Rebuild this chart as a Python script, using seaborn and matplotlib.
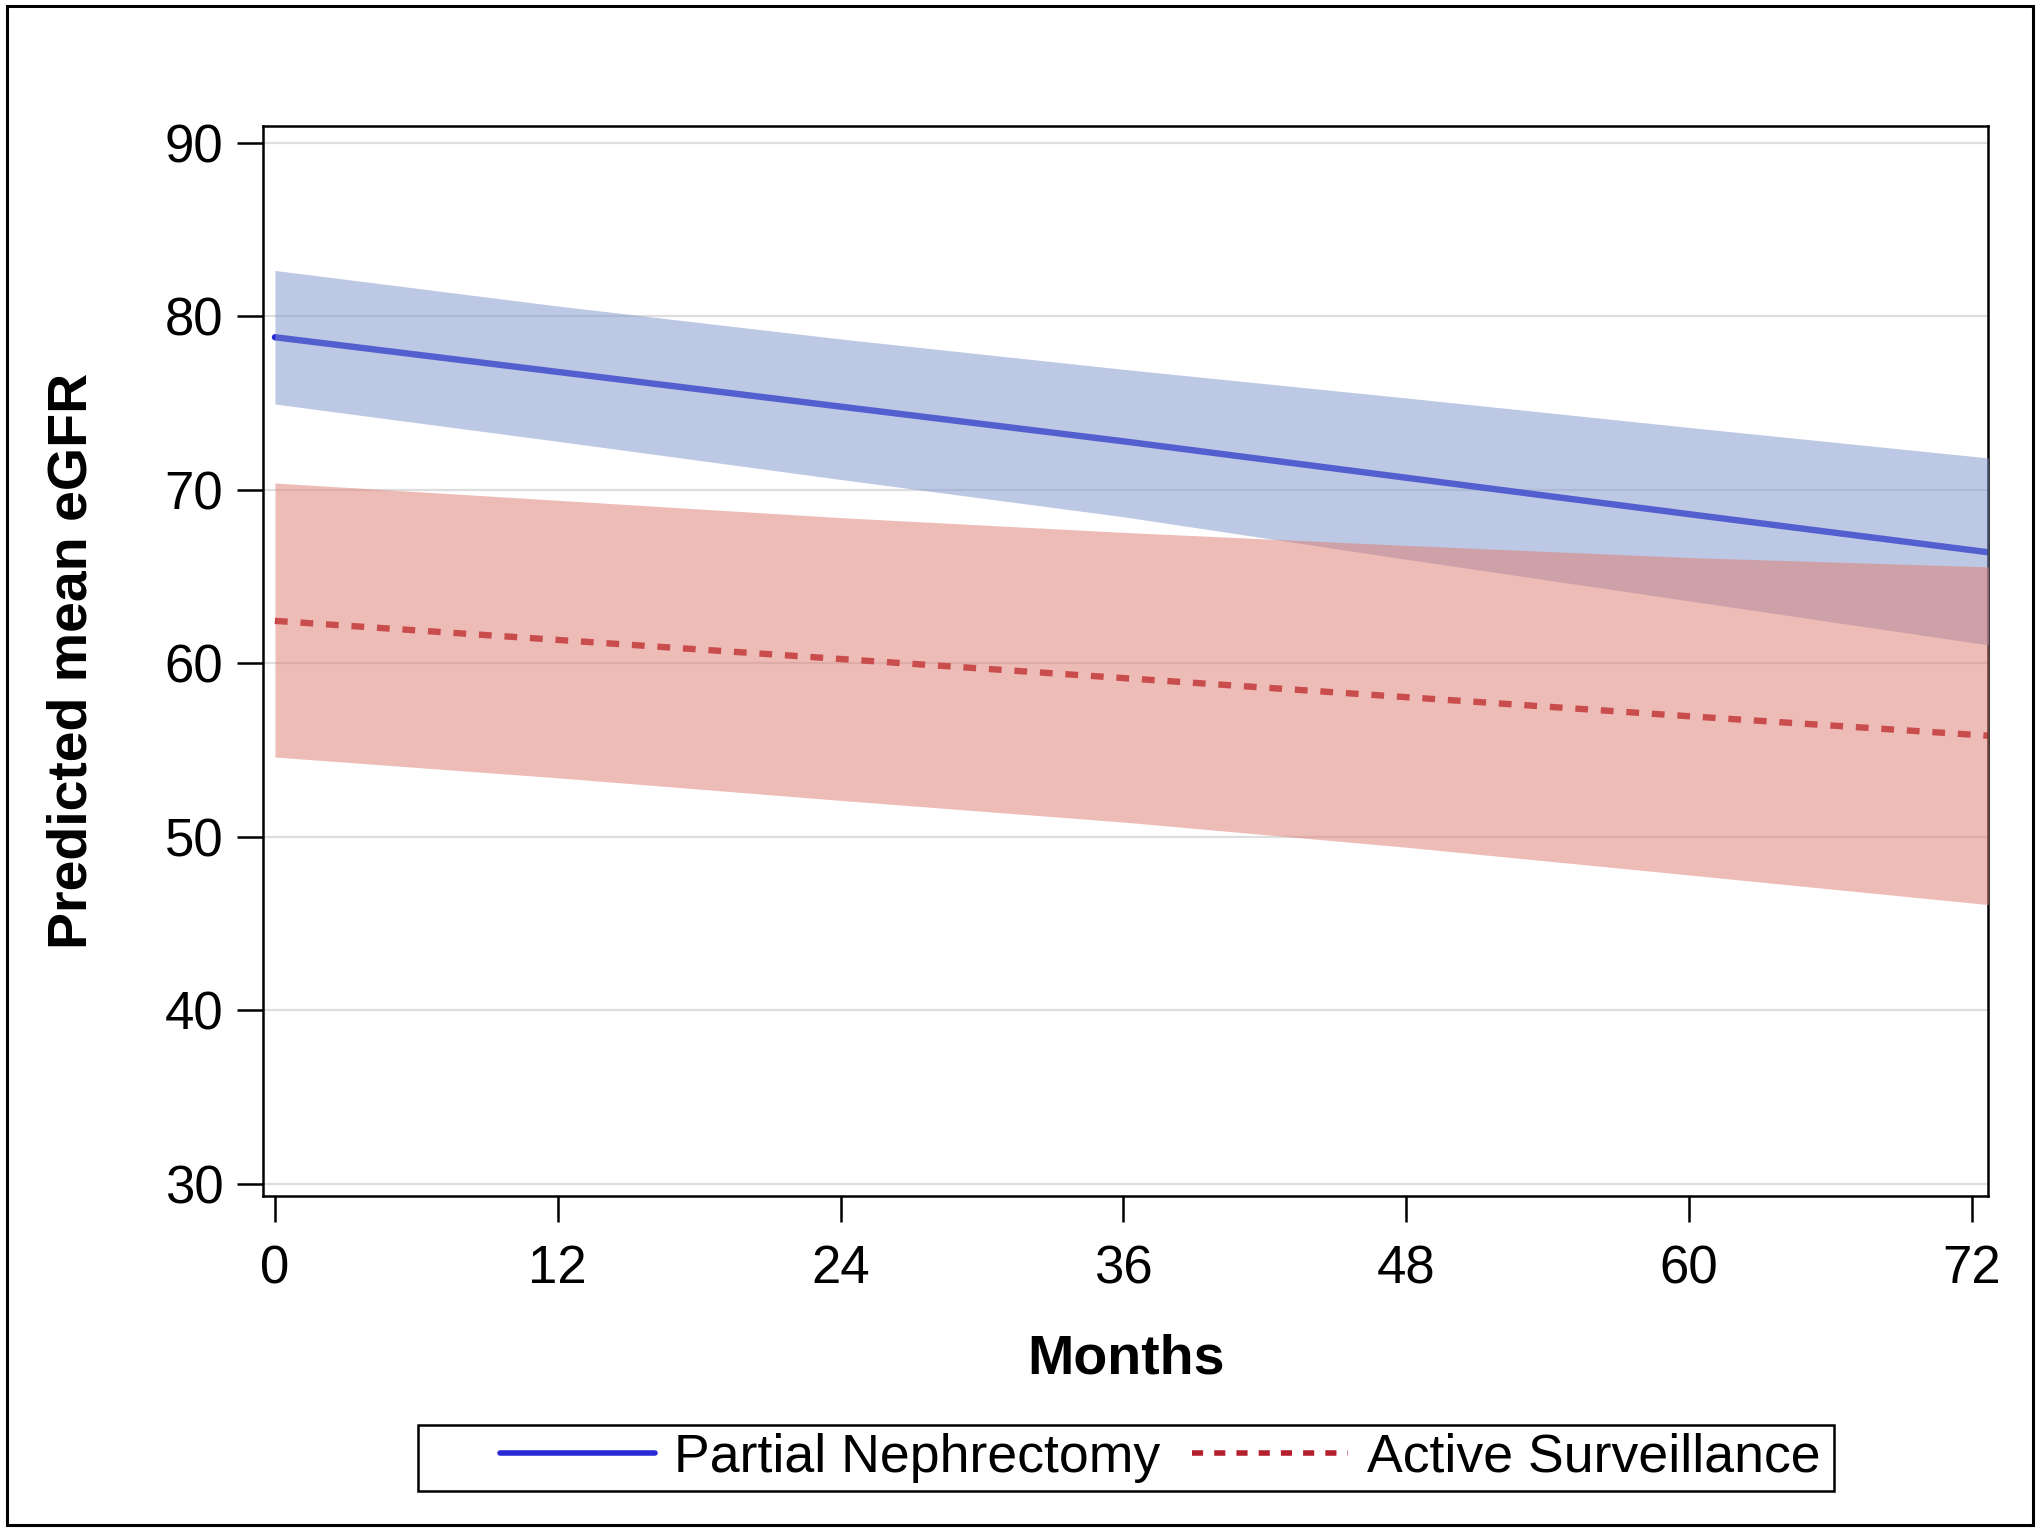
import pandas as pd
import matplotlib.pyplot as plt
import matplotlib.patches as mpatches
import seaborn as sns

# values (predicted mean eGFR with 95% band)
months = [0, 12, 24, 36, 48, 60, 73]
pn_mean = [78.8, 76.8, 74.8, 72.8, 70.7, 68.6, 66.35]
pn_upper = [82.65, 80.6, 78.7, 76.95, 75.3, 73.6, 71.8]
pn_lower = [74.95, 72.8, 70.6, 68.45, 66.0, 63.6, 61.0]
as_mean = [62.45, 61.35, 60.25, 59.15, 58.05, 56.95, 55.8]
as_upper = [70.4, 69.4, 68.4, 67.55, 66.8, 66.1, 65.55]
as_lower = [54.6, 53.4, 52.1, 50.85, 49.4, 47.8, 46.05]

groups = ['Partial Nephrectomy', 'Active Surveillance']
x_ticks = [0, 12, 24, 36, 48, 60, 72]
y_ticks = [30, 40, 50, 60, 70, 80, 90]

line_colors = {'Partial Nephrectomy': '#2A2AD5', 'Active Surveillance': '#B5202E'}
band_colors = {'Partial Nephrectomy': '#7D93CB', 'Active Surveillance': '#DF7B6F'}

df = pd.concat([
    pd.DataFrame({'month': months, 'egfr': pn_mean, 'lo': pn_lower, 'hi': pn_upper, 'group': groups[0]}),
    pd.DataFrame({'month': months, 'egfr': as_mean, 'lo': as_lower, 'hi': as_upper, 'group': groups[1]}),
], ignore_index=True)

sns.set_style('ticks')
plt.rcParams['font.family'] = ['Liberation Sans', 'DejaVu Sans']
plt.rcParams['text.color'] = 'black'
plt.rcParams['axes.labelcolor'] = 'black'

fig = plt.figure(figsize=(10.2, 7.665), dpi=200)
ax = fig.add_axes([0.129, 0.2198, 0.9745 - 0.129, 0.9175 - 0.2198])

sns.lineplot(data=df, x='month', y='egfr', hue='group', style='group',
             hue_order=groups, style_order=groups, palette=line_colors,
             dashes={groups[0]: '', groups[1]: (2.0, 2.0)}, linewidth=2.3,
             legend=False, ax=ax, zorder=2)

# bands sit on top of the lines with transparency
for g in groups:
    sub = df[df['group'] == g]
    ax.fill_between(sub['month'], sub['lo'], sub['hi'], color=band_colors[g],
                    alpha=0.5, linewidth=0, zorder=3)

ax.set_xlim(-0.5, 72.68)
ax.set_ylim(29.29, 90.95)
ax.set_xticks(x_ticks)
ax.set_yticks(y_ticks)
ax.yaxis.grid(True, color='#DEDEDE', linewidth=0.8)
ax.set_axisbelow(True)
for s in ax.spines.values():
    s.set_visible(True)
    s.set_color('black')
    s.set_linewidth(0.9)
ax.tick_params(axis='both', direction='out', length=9.4, width=0.9, color='black',
               labelsize=19, labelcolor='black', bottom=True, left=True)
ax.tick_params(axis='x', pad=8)
ax.tick_params(axis='y', pad=5)

ax.set_xlabel('Months', fontsize=20, fontweight='bold', va='center')
ax.set_ylabel('Predicted mean eGFR', fontsize=20, fontweight='bold', va='center')
ax.xaxis.set_label_coords(0.5, -0.153)
ax.yaxis.set_label_coords(-0.1107, 0.5)

handles = [plt.Line2D([], [], color=line_colors[groups[0]], linewidth=2.0),
           plt.Line2D([], [], color=line_colors[groups[1]], linewidth=2.0,
                      dashes=(2.0, 2.0))]
fig.legend(handles, groups, loc='center', bbox_to_anchor=(0.5686, 0.049), ncol=2,
           frameon=False, fontsize=19.3, handlelength=2.9, handletextpad=0.35,
           columnspacing=0.6, borderpad=0.1)

# legend box and outer border
fig.add_artist(mpatches.Rectangle((418 / 2040, 1 - 1491 / 1533), (1834 - 418) / 2040,
                                  (1491 - 1425) / 1533, transform=fig.transFigure,
                                  fill=False, edgecolor='black', linewidth=0.9))
fig.add_artist(mpatches.Rectangle((0.0032, 0.0052), 0.9934, 0.9906,
                                  transform=fig.transFigure, fill=False,
                                  edgecolor='black', linewidth=1.1))

fig.savefig('out.png', dpi=200, facecolor='white')
plt.close(fig)
